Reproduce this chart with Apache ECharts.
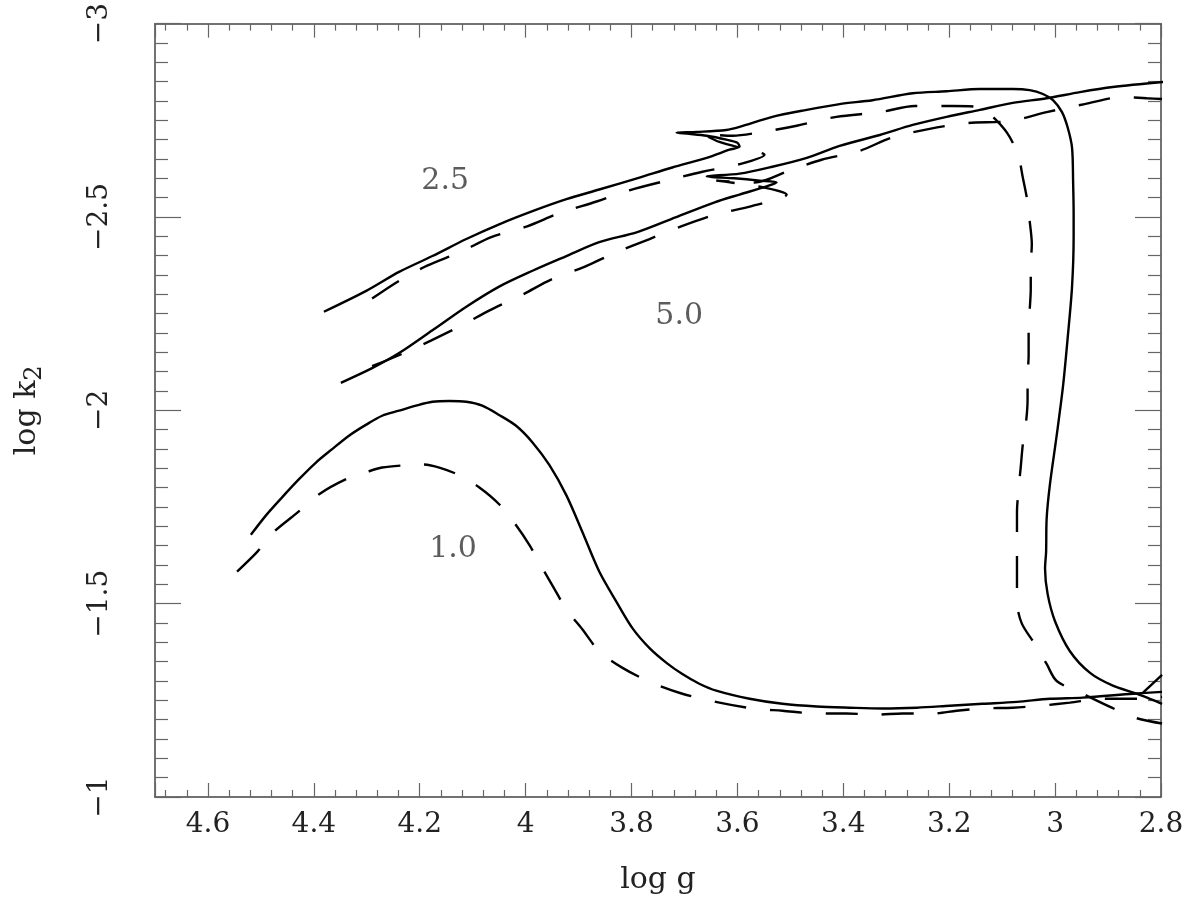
<!DOCTYPE html>
<html>
<head>
<meta charset="utf-8">
<title>log k2 - log g</title>
<script src="https://cdn.jsdelivr.net/npm/echarts@6.0.0/dist/echarts.min.js"></script>
<style>
    html, body { margin: 0; padding: 0; background: #fff; }
    #chart { width: 1200px; height: 901px; }
</style>
</head>
<body>
<div id="chart"></div>
<script>
// 坐标轴范围 (x: log g, y: log k2, 两轴都反向)
let xMin = 2.8;
let xMax = 4.7;
let xStep = 0.2;
let yMin = -3;
let yMax = -1;
let yStep = 0.5;

// 1.0 模型 [log g, log k2]
let m10Solid = [
    [4.519, -1.678], [4.490, -1.729], [4.460, -1.775], [4.428, -1.822], [4.396, -1.865],
    [4.366, -1.899], [4.333, -1.935], [4.301, -1.963], [4.271, -1.986], [4.239, -1.999],
    [4.207, -2.012], [4.176, -2.022], [4.144, -2.024], [4.112, -2.022], [4.082, -2.012],
    [4.050, -1.988], [4.018, -1.960], [3.987, -1.917], [3.955, -1.858], [3.923, -1.780],
    [3.893, -1.686], [3.861, -1.583], [3.829, -1.506], [3.798, -1.436], [3.766, -1.385],
    [3.734, -1.347], [3.704, -1.318], [3.672, -1.293], [3.640, -1.275], [3.577, -1.254],
    [3.515, -1.241], [3.450, -1.234], [3.388, -1.231], [3.326, -1.229], [3.261, -1.231],
    [3.199, -1.236], [3.137, -1.241], [3.072, -1.246], [3.010, -1.254], [2.948, -1.257],
    [2.853, -1.267], [2.798, -1.272]
];
let m10Dash = [
    [4.545, -1.583], [4.507, -1.634], [4.475, -1.686], [4.434, -1.732], [4.390, -1.783],
    [4.339, -1.822], [4.301, -1.840], [4.271, -1.852], [4.226, -1.858], [4.195, -1.860],
    [4.163, -1.852], [4.125, -1.832], [4.088, -1.801], [4.050, -1.757], [4.018, -1.703],
    [3.993, -1.652], [3.970, -1.596], [3.946, -1.539], [3.923, -1.485], [3.893, -1.434],
    [3.861, -1.377], [3.817, -1.334], [3.761, -1.295], [3.704, -1.267], [3.634, -1.244],
    [3.571, -1.229], [3.515, -1.223], [3.450, -1.216], [3.394, -1.216], [3.337, -1.213],
    [3.288, -1.216], [3.231, -1.216], [3.186, -1.223], [3.137, -1.229], [3.080, -1.231],
    [3.029, -1.236], [2.972, -1.244], [2.915, -1.254], [2.845, -1.254], [2.798, -1.259]
];

// 2.5 模型
let m25Solid = [
    [4.381, -2.255], [4.301, -2.309], [4.239, -2.358], [4.176, -2.399], [4.112, -2.443],
    [4.050, -2.481], [3.987, -2.515], [3.923, -2.546], [3.861, -2.571], [3.785, -2.602],
    [3.723, -2.628], [3.658, -2.653], [3.615, -2.674], [3.596, -2.682], [3.600, -2.692],
    [3.621, -2.700], [3.658, -2.710], [3.691, -2.715], [3.715, -2.718], [3.677, -2.720],
    [3.621, -2.725], [3.596, -2.733], [3.534, -2.759], [3.469, -2.777], [3.407, -2.792],
    [3.345, -2.802], [3.269, -2.820], [3.205, -2.825], [3.142, -2.831], [3.080, -2.831],
    [3.048, -2.828], [3.023, -2.818], [3.004, -2.802], [2.987, -2.771], [2.976, -2.730],
    [2.968, -2.679], [2.966, -2.592], [2.965, -2.507], [2.965, -2.448], [2.968, -2.320],
    [2.976, -2.191], [2.985, -2.063], [2.997, -1.935], [3.010, -1.806], [3.016, -1.719],
    [3.017, -1.634], [3.019, -1.591], [3.014, -1.524], [3.000, -1.454], [2.972, -1.377],
    [2.934, -1.321], [2.891, -1.288], [2.845, -1.267], [2.821, -1.254], [2.798, -1.241]
];
let m25SolidTail = [
    [2.834, -1.270], [2.798, -1.316]
];
let m25Dash = [
    [4.290, -2.289], [4.239, -2.335], [4.186, -2.374], [4.122, -2.410], [4.065, -2.448],
    [3.997, -2.476], [3.936, -2.510], [3.866, -2.540], [3.804, -2.569], [3.734, -2.594],
    [3.666, -2.617], [3.592, -2.638], [3.549, -2.661], [3.581, -2.674], [3.634, -2.694],
    [3.666, -2.715], [3.609, -2.710], [3.553, -2.720], [3.488, -2.736], [3.413, -2.759],
    [3.331, -2.771], [3.265, -2.787], [3.193, -2.787], [3.142, -2.784], [3.123, -2.766],
    [3.091, -2.718], [3.070, -2.661], [3.061, -2.602], [3.053, -2.546], [3.048, -2.489],
    [3.044, -2.430], [3.046, -2.374], [3.046, -2.314], [3.048, -2.258], [3.050, -2.199],
    [3.050, -2.142], [3.052, -2.083], [3.052, -2.027], [3.055, -1.968], [3.061, -1.911],
    [3.065, -1.852], [3.069, -1.796], [3.072, -1.737], [3.072, -1.634], [3.072, -1.506],
    [3.063, -1.449], [3.038, -1.395], [3.016, -1.344], [2.997, -1.300], [2.948, -1.267],
    [2.893, -1.231], [2.849, -1.205], [2.798, -1.190]
];

// 5.0 模型
let m50Solid = [
    [4.349, -2.071], [4.290, -2.109], [4.239, -2.148], [4.176, -2.207], [4.112, -2.268],
    [4.050, -2.320], [3.987, -2.361], [3.923, -2.399], [3.861, -2.435], [3.789, -2.461],
    [3.717, -2.499], [3.643, -2.538], [3.596, -2.558], [3.545, -2.579], [3.526, -2.589],
    [3.558, -2.594], [3.606, -2.600], [3.658, -2.605], [3.596, -2.612], [3.534, -2.630],
    [3.469, -2.653], [3.407, -2.684], [3.331, -2.712], [3.269, -2.738], [3.205, -2.759],
    [3.142, -2.777], [3.080, -2.795], [3.016, -2.807], [2.953, -2.823], [2.891, -2.836],
    [2.796, -2.849]
];
let m50Dash = [
    [4.290, -2.114], [4.235, -2.145], [4.178, -2.181], [4.120, -2.220], [4.069, -2.258],
    [4.006, -2.299], [3.952, -2.338], [3.889, -2.371], [3.832, -2.407], [3.766, -2.443],
    [3.710, -2.474], [3.640, -2.507], [3.573, -2.528], [3.507, -2.558], [3.549, -2.576],
    [3.640, -2.594], [3.568, -2.589], [3.502, -2.620], [3.441, -2.648], [3.369, -2.671],
    [3.309, -2.705], [3.237, -2.728], [3.165, -2.743], [3.086, -2.748], [3.016, -2.771],
    [2.944, -2.792], [2.874, -2.810], [2.827, -2.807], [2.798, -2.805]
];

// 曲线旁的质量标注
let massNames = ['2.5', '5.0', '1.0'];
let massPos = [[4.152, -2.592], [3.710, -2.243], [4.137, -1.642]];

let fontFamily = '"DejaVu Serif", "Liberation Serif", serif';
let lineColor = '#000';
let axisLineColor = '#444';
let tickColor = '#666';
let dashType = [32, 24];

// 负号用 U+2212
function minusSign(value) {
    return String(value).replace('-', '\u2212');
}

function makeAxis(extra, tickLen, minorSplit) {
    return Object.assign({
        type: 'value',
        inverse: true,
        axisLine: {
            show: true,
            onZero: false,
            lineStyle: { color: axisLineColor, width: 1.5 }
        },
        axisTick: {
            show: true,
            inside: true,
            length: tickLen,
            lineStyle: { color: tickColor, width: 1.2 }
        },
        minorTick: {
            show: true,
            splitNumber: minorSplit,
            length: tickLen / 2,
            lineStyle: { color: tickColor, width: 1.2 }
        },
        splitLine: { show: false },
        minorSplitLine: { show: false }
    }, extra);
}

function lineSeries(data, dashed) {
    return {
        type: 'line',
        data: data,
        symbol: 'none',
        showSymbol: false,
        silent: true,
        clip: true,
        smooth: 0.3,
        lineStyle: {
            color: lineColor,
            width: 2.4,
            type: dashed ? dashType : 'solid'
        },
        z: 3
    };
}

let labelData = massNames.map((name, i) => {
    return { name: name, value: massPos[i] };
});

let option = {
    animation: false,
    backgroundColor: '#fff',
    grid: {
        left: 155,
        top: 18,
        width: 1006,
        height: 779,
        containLabel: false
    },
    xAxis: [
        makeAxis({
            position: 'bottom',
            min: xMin,
            max: xMax,
            interval: xStep,
            name: 'log g',
            nameLocation: 'middle',
            nameGap: 68,
            nameTextStyle: {
                fontFamily: fontFamily,
                fontSize: 30,
                color: '#222'
            },
            axisLabel: {
                show: true,
                margin: 14,
                showMaxLabel: false,
                fontFamily: fontFamily,
                fontSize: 28,
                color: '#222',
                formatter: minusSign
            }
        }, 14, 5),
        makeAxis({
            position: 'top',
            min: xMin,
            max: xMax,
            interval: xStep,
            axisLabel: { show: false }
        }, 14, 5)
    ],
    yAxis: [
        makeAxis({
            position: 'left',
            min: yMin,
            max: yMax,
            interval: yStep,
            name: '{n|log k}{s|2}',
            nameLocation: 'middle',
            nameGap: 108,
            nameTextStyle: {
                rich: {
                    n: {
                        fontFamily: fontFamily,
                        fontSize: 30,
                        lineHeight: 40,
                        color: '#222'
                    },
                    s: {
                        fontFamily: fontFamily,
                        fontSize: 24,
                        lineHeight: 20,
                        verticalAlign: 'bottom',
                        color: '#222'
                    }
                }
            },
            axisLabel: {
                show: true,
                rotate: 90,
                margin: 41,
                fontFamily: fontFamily,
                fontSize: 28,
                color: '#222',
                formatter: minusSign
            }
        }, 26, 10),
        makeAxis({
            position: 'right',
            min: yMin,
            max: yMax,
            interval: yStep,
            axisLabel: { show: false }
        }, 26, 10)
    ],
    series: [
        lineSeries(m10Solid, false),
        lineSeries(m10Dash, true),
        lineSeries(m25Solid, false),
        lineSeries(m25SolidTail, false),
        lineSeries(m25Dash, true),
        lineSeries(m50Solid, false),
        lineSeries(m50Dash, true),
        {
            type: 'scatter',
            data: labelData,
            symbolSize: 1,
            silent: true,
            itemStyle: { color: 'rgba(0,0,0,0)' },
            label: {
                show: true,
                position: 'inside',
                formatter: (p) => p.name,
                fontFamily: fontFamily,
                fontSize: 30,
                color: '#333'
            },
            z: 4
        }
    ]
};

let myChart = echarts.init(document.getElementById('chart'), null, { renderer: 'canvas' });
myChart.setOption(option, true);
</script>
</body>
</html>
